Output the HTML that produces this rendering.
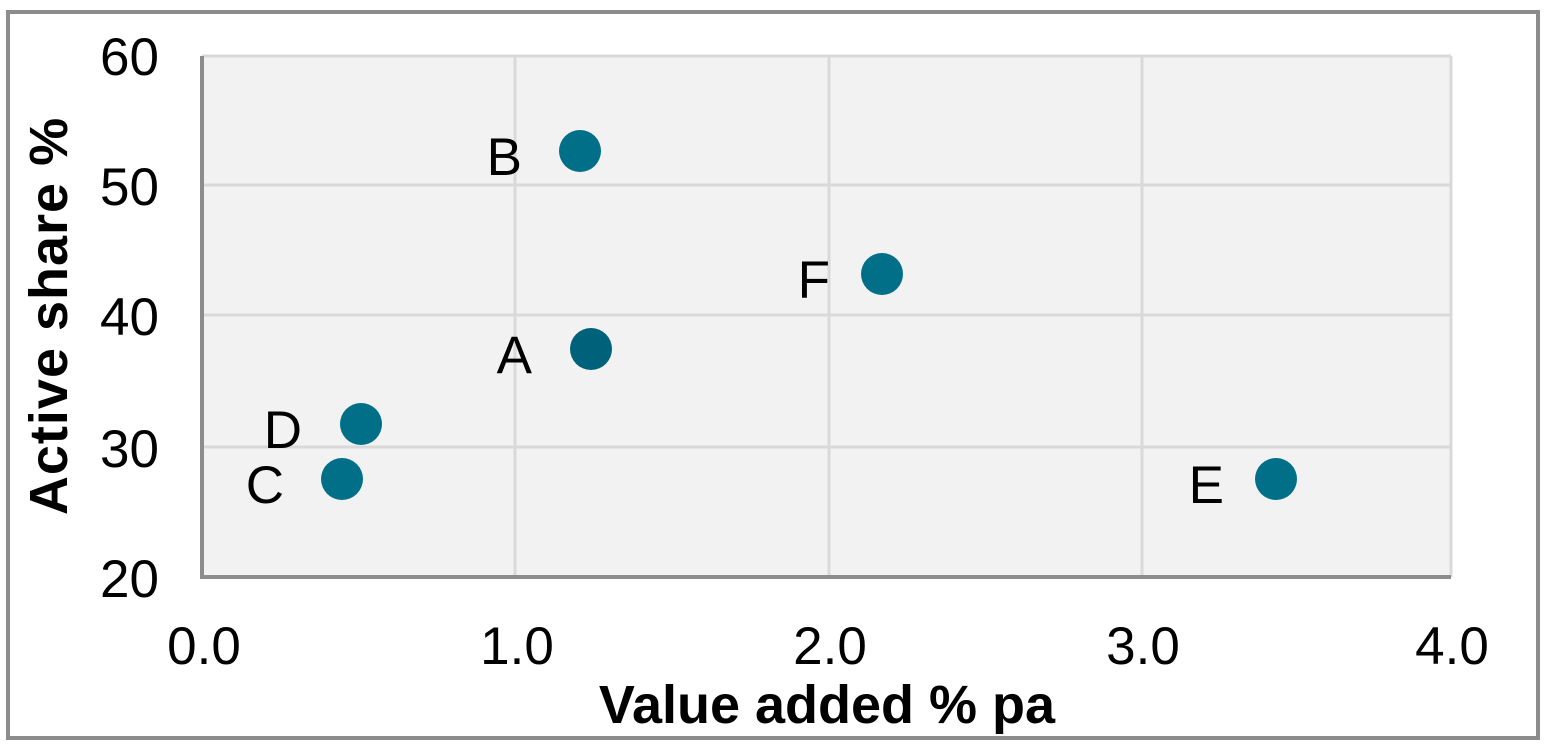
<!DOCTYPE html>
<html><head><style>
html,body{margin:0;padding:0;background:#fff;}
</style></head><body>
<svg width="1548" height="746" xmlns="http://www.w3.org/2000/svg" font-family="Liberation Sans, Arial, sans-serif">
<rect x="8" y="12" width="1530" height="726" fill="#fff" stroke="#8c8c8c" stroke-width="4"/>
<rect x="202" y="56" width="1249" height="521" fill="#f2f2f2"/>
<g stroke="#d9d9d9" stroke-width="3">
<line x1="515" y1="56" x2="515" y2="577"/>
<line x1="829" y1="56" x2="829" y2="577"/>
<line x1="1142" y1="56" x2="1142" y2="577"/>
<line x1="1451" y1="56" x2="1451" y2="577"/>
<line x1="202" y1="56" x2="1451" y2="56"/>
<line x1="202" y1="185" x2="1451" y2="185"/>
<line x1="202" y1="315" x2="1451" y2="315"/>
<line x1="202" y1="447" x2="1451" y2="447"/>
</g>
<g stroke="#8c8c8c" stroke-width="4">
<line x1="202" y1="56" x2="202" y2="577"/>
<line x1="200" y1="577" x2="1451" y2="577"/>
</g>
<g font-size="53" fill="#000" text-anchor="end">
<text x="159" y="75">60</text>
<text x="159" y="205">50</text>
<text x="159" y="335">40</text>
<text x="159" y="467">30</text>
<text x="159" y="597">20</text>
</g>
<g font-size="53" fill="#000" text-anchor="middle">
<text x="204" y="664">0.0</text>
<text x="517" y="664">1.0</text>
<text x="830" y="664">2.0</text>
<text x="1143" y="664">3.0</text>
<text x="1452" y="664">4.0</text>
</g>
<text x="827" y="723" font-size="54" font-weight="bold" text-anchor="middle">Value added % pa</text>
<text transform="translate(67,316) rotate(-90)" font-size="54" font-weight="bold" text-anchor="middle" letter-spacing="1">Active share %</text>
<g fill="#006f87">
<circle cx="580" cy="151" r="21"/>
<circle cx="882" cy="274" r="21"/>
<circle cx="591" cy="349" r="21" fill="#00627a"/>
<circle cx="361" cy="424" r="21"/>
<circle cx="342" cy="479" r="21"/>
<circle cx="1276" cy="479" r="21"/>
</g>
<g font-size="53" fill="#000" text-anchor="end">
<text x="522" y="175">B</text>
<text x="830" y="298">F</text>
<text x="532" y="373">A</text>
<text x="302" y="448">D</text>
<text x="284" y="503">C</text>
<text x="1224" y="503">E</text>
</g>
</svg>
</body></html>
